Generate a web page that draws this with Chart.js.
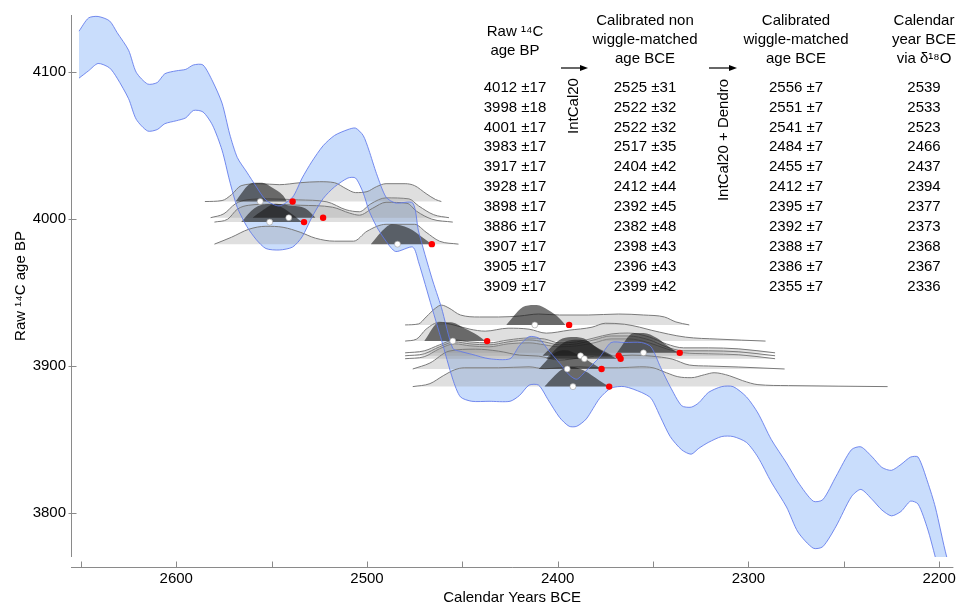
<!DOCTYPE html>
<html>
<head>
<meta charset="utf-8">
<script src="https://cdn.jsdelivr.net/npm/chart.js@4.4.1/dist/chart.umd.min.js"></script>
<style>
    html, body { margin: 0; padding: 0; background: #fff; }
    #chart { display: block; }
</style>
</head>
<body>
<canvas id="chart" width="958" height="604"></canvas>
<script>
//..samples, in table order
const raw14C = [4012, 3998, 4001, 3983, 3917, 3928, 3898, 3886, 3907, 3905, 3909];
const raw14CErr = [17, 18, 17, 17, 17, 17, 17, 17, 17, 17, 17];
const calAge = [2525, 2522, 2522, 2517, 2404, 2412, 2392, 2382, 2398, 2396, 2399];
const calAgeErr = [31, 32, 32, 35, 42, 44, 45, 48, 43, 43, 42];
const wmAge = [2556, 2551, 2541, 2484, 2455, 2412, 2395, 2392, 2388, 2386, 2355];
const wmAgeErr = [7, 7, 7, 7, 7, 7, 7, 7, 7, 7, 7];
const d18OAge = [2539, 2533, 2523, 2466, 2437, 2394, 2377, 2373, 2368, 2367, 2336];

//..IntCal20 calibration band (years BCE, 14C age BP)
const curveYears = [2651, 2646, 2641, 2635, 2631, 2625, 2621, 2615, 2610, 2606, 2600, 2595, 2591, 2586, 2581, 2576, 2572, 2568, 2563, 2558,
    2553, 2546, 2539, 2534, 2529, 2523, 2517, 2510, 2506, 2502, 2499, 2495, 2490, 2485, 2476, 2473, 2466, 2461, 2455, 2451,
    2445, 2436, 2425, 2420, 2415, 2410, 2405, 2399, 2394, 2390, 2385, 2378, 2372, 2365, 2356, 2351, 2346, 2341, 2335, 2330,
    2326, 2321, 2314, 2308, 2301, 2295, 2288, 2280, 2274, 2266, 2261, 2254, 2246, 2241, 2235, 2230, 2225, 2220, 2215, 2211,
    2206, 2202, 2196, 2192];
const curveUpper = [4128, 4137, 4138, 4135, 4127, 4115, 4100, 4092, 4093, 4099, 4101, 4102, 4105, 4105, 4094, 4079, 4058, 4042, 4032, 4022,
    4013, 4009, 4015, 4028, 4039, 4050, 4057, 4061, 4062, 4057, 4047, 4031, 4015, 4011, 4011, 3992, 3960, 3940, 3912, 3910,
    3908, 3905, 3905, 3914, 3920, 3919, 3911, 3902, 3894, 3891, 3897, 3906, 3916, 3916, 3916, 3913, 3899, 3886, 3873, 3872,
    3875, 3882, 3886, 3886, 3879, 3868, 3850, 3834, 3821, 3808, 3809, 3825, 3843, 3845, 3838, 3831, 3829, 3833, 3838, 3838,
    3821, 3804, 3770, 3755];
const curveLower = [4096, 4101, 4106, 4103, 4096, 4082, 4068, 4060, 4061, 4065, 4067, 4069, 4074, 4073, 4064, 4047, 4026, 4008, 3995, 3986,
    3980, 3979, 3981, 3988, 4001, 4014, 4022, 4028, 4028, 4018, 4006, 3995, 3985, 3978, 3981, 3971, 3940, 3918, 3891, 3879,
    3876, 3876, 3876, 3880, 3887, 3887, 3877, 3865, 3859, 3859, 3864, 3878, 3885, 3886, 3882, 3878, 3865, 3852, 3843, 3840,
    3844, 3848, 3852, 3852, 3848, 3838, 3821, 3804, 3787, 3776, 3777, 3791, 3811, 3816, 3809, 3802, 3798, 3801, 3808, 3806,
    3789, 3770, 3741, 3728];

//..calibrated (non wiggle-matched) probability, [year BCE, relative probability]
const calProb = [
    [[2585, 0], [2576, .05], [2571, .35], [2566, .8], [2556, .9], [2546, .85], [2535, .95], [2525, 1], [2517, .95], [2511, .65], [2506, .45], [2500, .5], [2495, .75], [2490, .9], [2480, .9], [2475, .8], [2469, .4], [2464, .1], [2461, 0]],
    [[2580, 0], [2573, .15], [2568, .65], [2562, .85], [2551, .9], [2535, .85], [2518, .75], [2509, .45], [2504, .35], [2497, .7], [2490, 1], [2479, .95], [2474, .55], [2466, .15], [2455, 0]],
    [[2582, 0], [2575, .2], [2569, .7], [2563, .9], [2552, .95], [2536, .9], [2521, .8], [2511, .4], [2504, .3], [2498, .7], [2490, 1], [2478, .95], [2473, .6], [2465, .15], [2457, 0]],
    [[2580, 0], [2571, .35], [2562, .75], [2553, .9], [2544, .85], [2535, .6], [2527, .3], [2517, .15], [2507, .15], [2500, .65], [2490, 1], [2475, 1], [2469, .6], [2462, .15], [2452, 0]],
    [[2480, 0], [2474, .1], [2469, .6], [2462, .95], [2456, .85], [2446, .6], [2438, .5], [2426, .65], [2415, .6], [2406, .4], [2394, .55], [2382, .7], [2375, .9], [2365, .85], [2357, .7], [2351, .55], [2333, .2], [2316, .1], [2291, 0]],
    [[2480, 0], [2473, .05], [2469, .4], [2464, .85], [2461, 1], [2457, .85], [2451, .5], [2441, .4], [2431, .4], [2420, .45], [2410, .55], [2399, .5], [2384, .5], [2368, .55], [2355, .5], [2344, .4], [2338, .15], [2331, 0]],
    [[2476, 0], [2467, .3], [2457, .9], [2443, 1], [2431, .9], [2420, .7], [2410, .65], [2399, .45], [2389, .55], [2378, .65], [2372, .65], [2361, .7], [2351, .65], [2340, .5], [2331, .2], [2321, .15], [2305, .1], [2281, 0]],
    [[2476, 0], [2467, .15], [2460, .55], [2454, .85], [2449, .95], [2431, .95], [2415, 1], [2407, .9], [2399, .95], [2389, 1], [2378, .95], [2368, .95], [2357, 1], [2350, .95], [2343, .7], [2337, .5], [2330, .45], [2323, .6], [2318, .7], [2310, .55], [2303, .3], [2295, .1], [2279, .05], [2227, 0]],
    [[2480, 0], [2470, .1], [2462, .45], [2454, .7], [2446, .6], [2436, .55], [2426, .7], [2415, .8], [2407, .7], [2399, .55], [2390, .6], [2381, .8], [2372, 1], [2363, 1], [2352, .8], [2343, .45], [2334, .25], [2321, .25], [2305, .2], [2286, 0]],
    [[2480, 0], [2470, .1], [2462, .5], [2454, .75], [2446, .65], [2436, .6], [2426, .75], [2415, .8], [2407, .7], [2399, .6], [2390, .65], [2381, .8], [2372, 1], [2363, 1], [2352, .8], [2343, .5], [2334, .3], [2321, .25], [2305, .2], [2286, 0]],
    [[2480, 0], [2470, .1], [2462, .4], [2454, .65], [2446, .55], [2436, .5], [2426, .65], [2415, .75], [2407, .7], [2399, .5], [2390, .55], [2381, .75], [2372, .95], [2363, 1], [2352, .8], [2343, .45], [2334, .25], [2321, .25], [2305, .2], [2286, 0]]
];

//..wiggle-matched probability, [year BCE, relative probability]
const wmProb = [
    [[2569, 0], [2562, .85], [2559, .95], [2555, .95], [2550, .72], [2544, .3], [2542, 0]],
    [[2566, 0], [2559, .7], [2552, .9], [2547, .85], [2540, .45], [2534, 0]],
    [[2560, 0], [2555, .35], [2548, .7], [2541, .62], [2532, .45], [2527, 0]],
    [[2498, 0], [2490, .85], [2487, 1], [2478, .8], [2471, .35], [2466, 0]],
    [[2470, 0], [2462, .95], [2456, .95], [2449, .65], [2442, .3], [2438, 0]],
    [[2427, 0], [2417, .95], [2411, 1], [2405, .75], [2399, .33], [2396, 0]],
    [[2410, 0], [2401, .85], [2396, .95], [2390, .75], [2383, .35], [2377, 0]],
    [[2407, 0], [2398, .85], [2393, 1], [2386, .8], [2378, .3], [2373, 0]],
    [[2408, 0], [2399, .8], [2393, .95], [2387, .9], [2380, .45], [2371, 0]],
    [[2406, 0], [2397, .8], [2391, .95], [2385, .9], [2378, .45], [2369, 0]],
    [[2369, 0], [2360, 1], [2355, 1], [2348, .75], [2343, .4], [2337, 0]]
];

const xTicks = [2200, 2250, 2300, 2350, 2400, 2450, 2500, 2550, 2600, 2650];
const yTicks = [3800, 3900, 4000, 4100];

//..height (in 14C yrs) of a relative probability of 1
const PEAK = 13.5;
const FONT = '"Liberation Sans", Arial, sans-serif';

Chart.defaults.font.family = FONT;
Chart.defaults.font.size = 15;
Chart.defaults.color = '#000';

function probData(curve, base) {
    return curve.map(([yr, p]) => ({ x: yr, y: base + p * PEAK }));
}

function bandData(values) {
    return curveYears.map((yr, i) => ({ x: yr, y: values[i] }));
}

const datasets = [
    //..band fill (bottom layer)
    { data: bandData(curveUpper), fill: '+1', backgroundColor: 'rgb(201,221,252)', borderColor: 'transparent', borderWidth: 0, order: 10, tension: 0.25 },
    { data: bandData(curveLower), fill: false, borderColor: 'transparent', borderWidth: 0, order: 10, tension: 0.25 },
    //..band outline (over the probability curves)
    { data: bandData(curveUpper), fill: false, borderColor: 'rgba(95,120,235,0.85)', borderWidth: 1, order: 2, tension: 0.25 },
    { data: bandData(curveLower), fill: false, borderColor: 'rgba(95,120,235,0.85)', borderWidth: 1, order: 2, tension: 0.25 }
];

raw14C.forEach((base, i) => {
    datasets.push({
        data: probData(calProb[i], base),
        fill: { value: base },
        backgroundColor: 'rgba(150,150,150,0.3)',
        borderColor: '#7a7a7a',
        borderWidth: 1,
        cubicInterpolationMode: 'monotone',
        order: 5
    });
    datasets.push({
        data: probData(wmProb[i], base),
        fill: { value: base },
        backgroundColor: 'rgba(25,25,25,0.6)',
        borderColor: 'transparent',
        borderWidth: 0,
        cubicInterpolationMode: 'monotone',
        order: 4
    });
});

datasets.push({
    data: wmAge.map((yr, i) => ({ x: yr, y: raw14C[i] })),
    showLine: false,
    pointRadius: 3,
    pointBackgroundColor: '#ffffff',
    pointBorderColor: '#9a9a9a',
    pointBorderWidth: 0.6,
    order: 0
});
datasets.push({
    data: d18OAge.map((yr, i) => ({ x: yr, y: raw14C[i] })),
    showLine: false,
    pointRadius: 3.2,
    pointBackgroundColor: '#ff0000',
    pointBorderWidth: 0,
    order: 0
});

//..axis lines with inside ticks, x axis sits a bit below the plot
const axesPlugin = {
    id: 'axes',
    afterDraw(chart) {
        const { ctx, chartArea: a, scales: { x, y } } = chart;
        const xb = Math.round(a.bottom + 10) + 0.5;
        const yl = Math.round(a.left) + 0.5;
        ctx.save();
        ctx.strokeStyle = '#8a8a8a';
        ctx.lineWidth = 1;
        ctx.beginPath();
        ctx.moveTo(yl, a.top);
        ctx.lineTo(yl, a.bottom);
        ctx.moveTo(a.left, xb);
        ctx.lineTo(a.right, xb);
        yTicks.forEach(v => {
            const py = Math.round(y.getPixelForValue(v)) + 0.5;
            ctx.moveTo(yl - 3, py);
            ctx.lineTo(yl + 5, py);
        });
        xTicks.forEach(v => {
            const px = Math.round(x.getPixelForValue(v)) + 0.5;
            ctx.moveTo(px, xb);
            ctx.lineTo(px, xb - 6);
        });
        ctx.stroke();
        ctx.restore();
    }
};

//..table of ages in the upper right
const tablePlugin = {
    id: 'ageTable',
    afterDraw(chart) {
        const ctx = chart.ctx;
        ctx.save();
        ctx.font = '15px ' + FONT;
        ctx.fillStyle = '#000';
        ctx.textAlign = 'center';
        ctx.textBaseline = 'middle';

        const cols = [515, 645, 796, 924];
        const heads = [
            [['Raw ¹⁴C', 32.3], ['age BP', 50.7]],
            [['Calibrated non', 21], ['wiggle-matched', 39.7], ['age BCE', 58.7]],
            [['Calibrated', 21], ['wiggle-matched', 39.7], ['age BCE', 58.7]],
            [['Calendar', 21], ['year BCE', 39.7], ['via δ¹⁸O', 58.7]]
        ];
        heads.forEach((lines, c) => {
            lines.forEach(([txt, ty]) => ctx.fillText(txt, cols[c], ty));
        });

        raw14C.forEach((v, i) => {
            const ty = 87.5 + i * 19.93;
            ctx.fillText(`${v} ±${raw14CErr[i]}`, cols[0], ty);
            ctx.fillText(`${calAge[i]} ±${calAgeErr[i]}`, cols[1], ty);
            ctx.fillText(`${wmAge[i]} ±${wmAgeErr[i]}`, cols[2], ty);
            ctx.fillText(`${d18OAge[i]}`, cols[3], ty);
        });

        //..arrows
        ctx.strokeStyle = '#000';
        ctx.lineWidth = 1.2;
        [[561, 588], [709, 737]].forEach(([x0, x1]) => {
            ctx.beginPath();
            ctx.moveTo(x0, 68);
            ctx.lineTo(x1 - 6, 68);
            ctx.stroke();
            ctx.beginPath();
            ctx.moveTo(x1, 68);
            ctx.lineTo(x1 - 8, 65);
            ctx.lineTo(x1 - 8, 71);
            ctx.closePath();
            ctx.fill();
        });

        //..rotated labels
        [['IntCal20', 573.5, 106], ['IntCal20 + Dendro', 723.5, 140]].forEach(([txt, tx, ty]) => {
            ctx.save();
            ctx.translate(tx, ty);
            ctx.rotate(-Math.PI / 2);
            ctx.fillText(txt, 0, 0);
            ctx.restore();
        });
        ctx.restore();
    }
};

new Chart(document.getElementById('chart'), {
    type: 'line',
    data: { datasets },
    options: {
        responsive: false,
        animation: false,
        layout: { padding: { top: 15, right: 3, left: 0, bottom: 0 } },
        elements: { point: { radius: 0 } },
        plugins: { legend: { display: false }, tooltip: { enabled: false } },
        scales: {
            x: {
                type: 'linear',
                reverse: true,
                min: 2192.5,
                max: 2655.2,
                grid: { display: false, drawTicks: false },
                border: { display: false },
                afterBuildTicks: s => { s.ticks = xTicks.map(v => ({ value: v })); },
                afterFit: s => { s.height = 47; },
                ticks: {
                    padding: 13,
                    autoSkip: false,
                    maxRotation: 0,
                    callback: v => (v % 100 === 0 ? String(v) : '')
                },
                title: { display: true, text: 'Calendar Years BCE', padding: { top: 0, bottom: -3 } }
            },
            y: {
                type: 'linear',
                min: 3770,
                max: 4139,
                grid: { display: false, drawTicks: false },
                border: { display: false },
                afterBuildTicks: s => { s.ticks = yTicks.map(v => ({ value: v })); },
                afterFit: s => { s.width = 71; },
                ticks: { padding: 5, callback: v => String(v) },
                title: { display: true, text: 'Raw ¹⁴C age BP', padding: { top: 12, bottom: 0 } }
            }
        }
    },
    plugins: [axesPlugin, tablePlugin]
});
</script>
</body>
</html>
